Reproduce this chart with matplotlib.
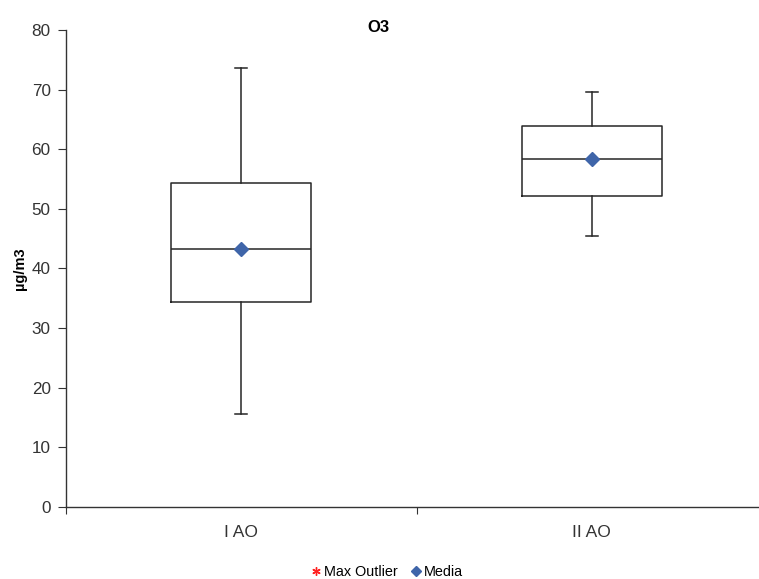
import matplotlib
matplotlib.use("Agg")
import matplotlib.pyplot as plt

plt.rcParams['font.family'] = ['Liberation Sans', 'DejaVu Sans']

categories = ["I AO", "II AO"]
whisker_low = [15.5, 45.5]
q1 = [34.3, 52.2]
median = [43.3, 58.3]
q3 = [54.4, 63.9]
whisker_high = [73.7, 69.6]
mean = [43.3, 58.4]
max_outlier = []  # no max outliers shown

title = "O3"
ylabel = "µg/m3"

fig = plt.figure(figsize=(7.59, 5.79), dpi=100)
ax = fig.add_axes([66/759, 72.3/579, 701/759, 476.7/579])

stats = []
for i, c in enumerate(categories):
    stats.append(dict(label=c, whislo=whisker_low[i], q1=q1[i], med=median[i],
                      q3=q3[i], whishi=whisker_high[i], fliers=[]))

positions = list(range(len(categories)))
line_col = '#262626'
ax.bxp(stats, positions=positions, widths=0.4, showfliers=False,
       boxprops=dict(color=line_col, linewidth=1.1),
       medianprops=dict(color=line_col, linewidth=1.1),
       whiskerprops=dict(color=line_col, linewidth=1.1),
       capprops=dict(color=line_col, linewidth=1.1),
       capwidths=0.035, manage_ticks=False)

mean_h, = ax.plot(positions, mean, linestyle='none', marker='D', markersize=7,
                  color='#3F65A9', label='Media', zorder=5)
out_h, = ax.plot(max_outlier, max_outlier, linestyle='none', marker=(6, 2, 0), markersize=8,
                 color='#FF2020', markeredgewidth=1.0, label='Max Outlier')

ax.set_xlim(-0.5, 1.5)
ax.set_ylim(0, 80)
ax.set_yticks(range(0, 81, 10))
ax.set_xticks([-0.5, 0.5, 1.5])
ax.set_xticklabels([])
ax.set_xticks(positions, minor=True)
ax.set_xticklabels(categories, minor=True)
ax.tick_params(axis='x', which='minor', length=0, pad=13, labelsize=12.5, colors='#333333')
ax.tick_params(axis='x', which='major', length=5, direction='out', color='#333333')
ax.tick_params(axis='y', length=6, direction='out', labelsize=12.3, labelcolor='#333333',
               color='#333333', pad=5)

for s in ['top', 'right']:
    ax.spines[s].set_visible(False)
for s in ['left', 'bottom']:
    ax.spines[s].set_color('#333333')
    ax.spines[s].set_linewidth(1.0)

ax.set_ylabel(ylabel, fontsize=10.5, fontweight='bold')
ax.yaxis.set_label_coords(-(66 - 20) / 701, 0.5)
ax.yaxis.label.set_va('center')

fig.text(378/759, 1 - 28/579, title, ha='center', va='center', fontsize=12, fontweight='bold')

fig.legend(handles=[out_h, mean_h], labels=['Max Outlier', 'Media'],
           loc='center', bbox_to_anchor=(386/759, 1 - 572/579), ncol=2,
           frameon=False, fontsize=10.4, handletextpad=0.1, columnspacing=0.8,
           handlelength=0.9, markerscale=0.75)

fig.savefig("out.png", dpi=100)
